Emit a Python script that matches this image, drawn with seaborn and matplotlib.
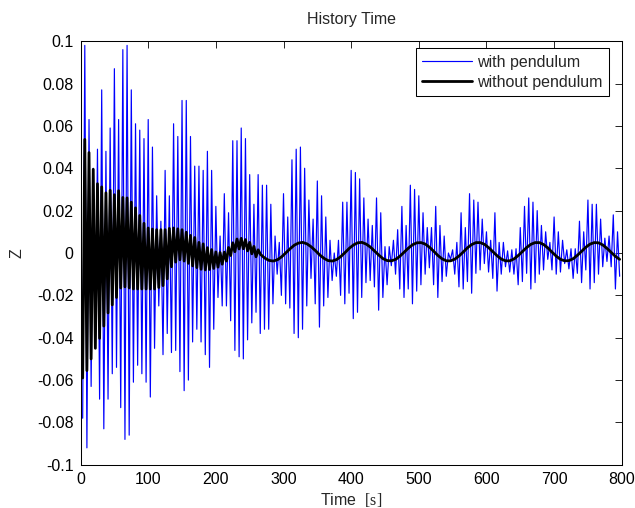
import numpy as np
import pandas as pd
import matplotlib
matplotlib.use('Agg')
import matplotlib.pyplot as plt
from matplotlib.ticker import FuncFormatter
import seaborn as sns

# Z with pendulum: alternating extremes (x 1e-3)
z_with = [
    # 0 - 260 s
    -78, 98, -92, 63, -63, 40, -45, 49, -69, 77,
    -83, 48, -69, 59, -57, 87, -54, 63, -73, 96,
    -88, 98, -86, 77, -61, 61, -53, 58, -57, 54,
    -61, 63, -68, 50, -45, 27, -25, 15, -48, 39,
    -38, 27, -47, 61, -46, 55, -56, 72, -65, 72,
    -60, 55, -42, 41, -36, 41, -42, 39, -48, 48,
    -54, 39, -36, 22, -21, 8, -25, 28, -25, 19,
    -32, 53, -46, 53, -49, 59, -50, 54, -41, 37,
    -33, 23, -28, 37,
    # 260 - 530 s
    -38, 32, -36, 32, -36, 23, -24, 8, -10, 5,
    -20, 28, -24, 17, -26, 44, -38, 49, -40, 50,
    -36, 40, -25, 25, -12, 16, -24, 34, -35, 27,
    -25, 17, -21, 6, -13, 0, -11, 6, -20, 24,
    -24, 24, -19, 39, -31, 38, -28, 35, -21, 26,
    -14, 16, -13, 13, -16, 26, -27, 19, -21, 3,
    -15, 3, -6, 6, -10, 11, -17, 22, -21, 13,
    -17, 32, -24, 30, -18, 27, -15, 19, -10, 12,
    -7, 12, -15, 22, -21,
    # 530 - 800 s
    13, -13.5, 8, -11, 0, -3, 1.5, -10, 5, -16,
    19, -17, 12, -13.5, 28, -19, 25, -9.6, 24, -8,
    16, -5, 10, -9, 6, -12, 19, -18, 5, -10,
    5, -6.5, 1, -9, 1.5, -10, 2, -15, 12, -13.5,
    22, -9.6, 26, -17, 24, -14, 20, -10, 13, -8,
    10, -3, 5, -8, 17, -10, 10, -9, 6, -5,
    1.5, -7.5, 2, -12, 2, -9.6, 15, -14, 10, -8,
    25, -17, 23, -14, 23, -10, 16, -6.5, 7, -4,
    8, -6.5, 18, -17, 10, -11,
]

# Z without pendulum, first 260 s (same sampling as above, x 1e-3)
z_without_early = [
    -59, 53.6, -55.5, 47.4, -50, 39.5, -45, 32.7, -40.3, 31.2,
    -34.5, 28.4, -28.3, 29.6, -24.5, 27.5, -21, 29.4, -16.5, 26.2,
    -16, 26, -16.5, 24, -17, 21.3, -17, 17.7, -17, 14,
    -17, 11.8, -17, 11.3, -17, 11, -16.3, 11, -15.4, 11,
    -12.2, 11.6, -6.5, 11.8, -4.3, 11.4, -3.2, 11, -3.8, 9.8,
    -4.9, 8.3, -6.1, 7.3, -6.9, 5, -7.7, 4.3, -8, 2.5,
    -7.8, 1.6, -7.3, 0.5, -6.7, 0.2, -5.3, 0.4, -3.8, 2.6,
    -1.2, 4.8, 0.6, 6.6, 1.9, 6.9, 2, 6.3, 1, 5,
    -0.4, 3.1, -1.8, 1.5,
]

# Z without pendulum, 266 - 797 s (slow swing, x 1e-3)
z_without_late = [
    -0.7, -2.4, -3.5, -3.8, -3.2, -1.8, 0.1, 2.0, 3.7, 4.7,
    5.0, 4.3, 2.9, 1.1, -0.9, -2.5, -3.6, -3.8, -3.1, -1.7,
    0.2, 2.2, 3.8, 4.8, 5.0, 4.2, 2.8, 0.9, -1.0, -2.7,
    -3.6, -3.7, -3.0, -1.5, 0.4, 2.3, 3.9, 4.8, 4.9, 4.2,
    2.7, 0.8, -1.2, -2.8, -3.7, -3.7, -2.9, -1.4, 0.5, 2.5,
    4.0, 4.9, 4.9, 4.1, 2.5, 0.6, -1.3, -2.9, -3.7, -3.7,
    -2.8, -1.2, 0.7, 2.6, 4.1, 4.9, 4.9, 4.0, 2.4, 0.4,
    -1.5, -3.0, -3.7, -3.6, -2.7, -1.1, 0.8, 2.7, 4.2, 4.9,
    4.8, 3.8, 2.2, 0.3, -1.6, -3.0,
]

x_ticks = [0, 100, 200, 300, 400, 500, 600, 700, 800]
y_ticks = [-0.1, -0.08, -0.06, -0.04, -0.02, 0, 0.02, 0.04, 0.06, 0.08, 0.1]

# sample times
t_with = np.linspace(3, 797, len(z_with))
t_without = np.concatenate([t_with[:len(z_without_early)],
                            np.linspace(266, 797, len(z_without_late))])

df_with = pd.DataFrame({'t': t_with, 'z': np.array(z_with) / 1000})
df_without = pd.DataFrame({'t': t_without,
                           'z': np.array(z_without_early + z_without_late) / 1000})

sns.set_style('white')
plt.rcParams['font.family'] = ['Liberation Sans', 'DejaVu Sans']
plt.rcParams['axes.unicode_minus'] = False
plt.rcParams['mathtext.fontset'] = 'custom'
plt.rcParams['mathtext.rm'] = 'Liberation Serif'

fs = 11.5
fig, ax = plt.subplots(figsize=(6.35, 5.08), dpi=100)
fig.subplots_adjust(left=0.127, right=0.979, top=0.919, bottom=0.085)

sns.lineplot(data=df_with, x='t', y='z', color='#0000ff', lw=0.85,
             estimator=None, label='with pendulum', ax=ax)
sns.lineplot(data=df_without, x='t', y='z', color='black', lw=2,
             estimator=None, label='without pendulum', ax=ax)

ax.set_xlim(0, 800)
ax.set_ylim(-0.1, 0.1)
ax.set_xticks(x_ticks)
ax.set_yticks(y_ticks)
ax.yaxis.set_major_formatter(FuncFormatter(lambda v, p: '%g' % (round(v, 3) + 0.0)))
ax.tick_params(direction='in', top=True, right=True, length=5, width=0.6,
               labelsize=fs, pad=5, colors='black')
for sp in ax.spines.values():
    sp.set_color('black')
    sp.set_linewidth(0.75)

ax.set_title('History Time', fontsize=fs, pad=12)
ax.set_ylabel('Z', fontsize=fs, labelpad=9)
ax.set_xlabel(r'Time  $\mathrm{[s]}$', fontsize=fs, labelpad=3)

leg = ax.legend(loc='upper right', bbox_to_anchor=(0.977, 0.983), borderaxespad=0,
                fontsize=fs, handlelength=3.1, handletextpad=0.35, borderpad=0.4,
                labelspacing=0.33, fancybox=False, edgecolor='black', framealpha=1)
leg.get_frame().set_linewidth(0.75)

fig.savefig('out.png', dpi=100)
